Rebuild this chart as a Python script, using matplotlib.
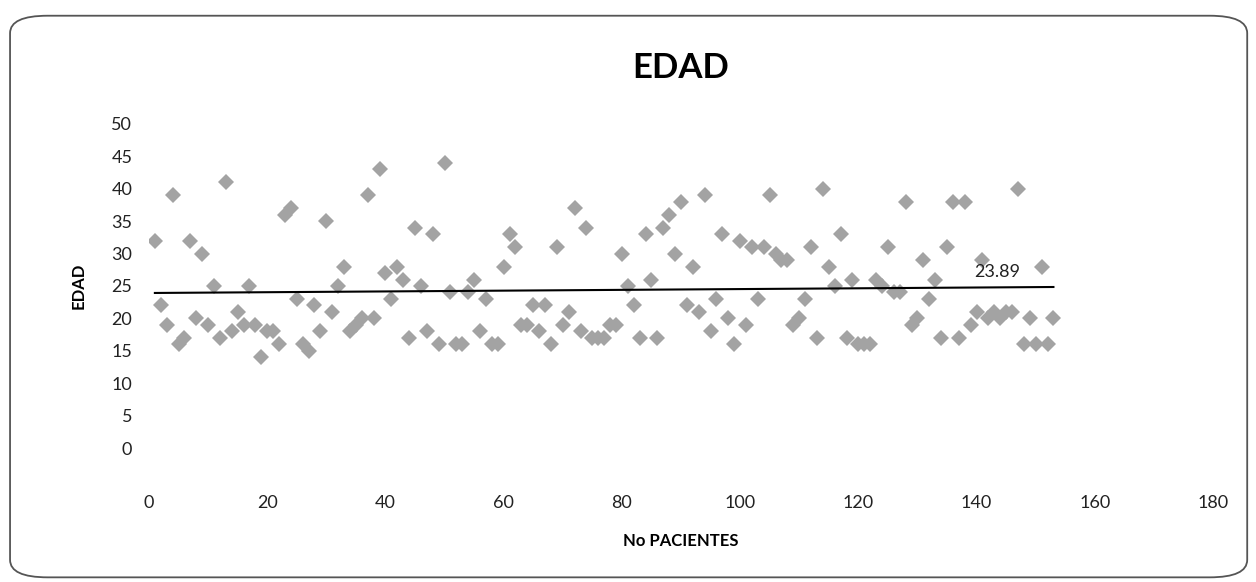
import numpy as np
import matplotlib.pyplot as plt
from matplotlib.patches import FancyBboxPatch

plt.rcParams['font.family'] = ['Lato', 'DejaVu Sans']

# edad por paciente (1..153)
edad = [32, 22, 19, 39, 16, 17, 32, 20, 30, 19,
        25, 17, 41, 18, 21, 19, 25, 19, 14, 18,
        18, 16, 36, 37, 23, 16, 15, 22, 18, 35,
        21, 25, 28, 18, 19, 20, 39, 20, 43, 27,
        23, 28, 26, 17, 34, 25, 18, 33, 16, 44,
        24, 16, 16, 24, 26, 18, 23, 16, 16, 28,
        33, 31, 19, 19, 22, 18, 22, 16, 31, 19,
        21, 37, 18, 34, 17, 17, 17, 19, 19, 30,
        25, 22, 17, 33, 26, 17, 34, 36, 30, 38,
        22, 28, 21, 39, 18, 23, 33, 20, 16, 32,
        19, 31, 23, 31, 39, 30, 29, 29, 19, 20,
        23, 31, 17, 40, 28, 25, 33, 17, 26, 16,
        16, 16, 26, 25, 31, 24, 24, 38, 19, 20,
        29, 23, 26, 17, 31, 38, 17, 38, 19, 21,
        29, 20, 21, 20, 21, 21, 40, 16, 20, 16,
        28, 16, 20]
pacientes = np.arange(1, len(edad) + 1)
etiqueta_media = "23.89"

x_ticks = list(range(0, 181, 20))
y_ticks = list(range(0, 51, 5))

fig = plt.figure(figsize=(12.56, 5.82), dpi=100)

# marco redondeado del area del grafico
marco = FancyBboxPatch((0.008, 0.008), 0.985, 0.965,
                       boxstyle="round,pad=0,rounding_size=0.03",
                       transform=fig.transFigure, fill=False,
                       edgecolor='#555555', linewidth=1.3)
fig.patches.append(marco)

ax = fig.add_axes([0.1186, 0.2302, 0.8472, 0.5568])
ax.plot(pacientes, edad, linestyle='none', marker='D', markersize=8.5,
        color='#a3a3a3', markeredgewidth=0)

# linea de tendencia lineal
m, b = np.polyfit(pacientes, edad, 1)
xt = np.array([pacientes[0], pacientes[-1]])
ax.plot(xt, m * xt + b, color='black', linewidth=1.5)
ax.text(143.5, 27.2, etiqueta_media, ha='center', va='center',
        fontsize=13, color='#222222')

ax.set_xlim(0, 180)
ax.set_ylim(0, 50)
ax.set_xticks(x_ticks)
ax.set_yticks(y_ticks)
for s in ax.spines.values():
    s.set_visible(False)
ax.tick_params(axis='both', length=0, labelsize=13, colors='#222222')
ax.tick_params(axis='x', pad=34)
ax.tick_params(axis='y', pad=12)

ax.set_title("EDAD", fontsize=25, fontweight='bold', pad=33)
ax.set_xlabel("No PACIENTES", fontsize=12, fontweight='bold', labelpad=16)
ax.set_ylabel("EDAD", fontsize=12, fontweight='bold', labelpad=18)

fig.savefig("out.png", dpi=100)
